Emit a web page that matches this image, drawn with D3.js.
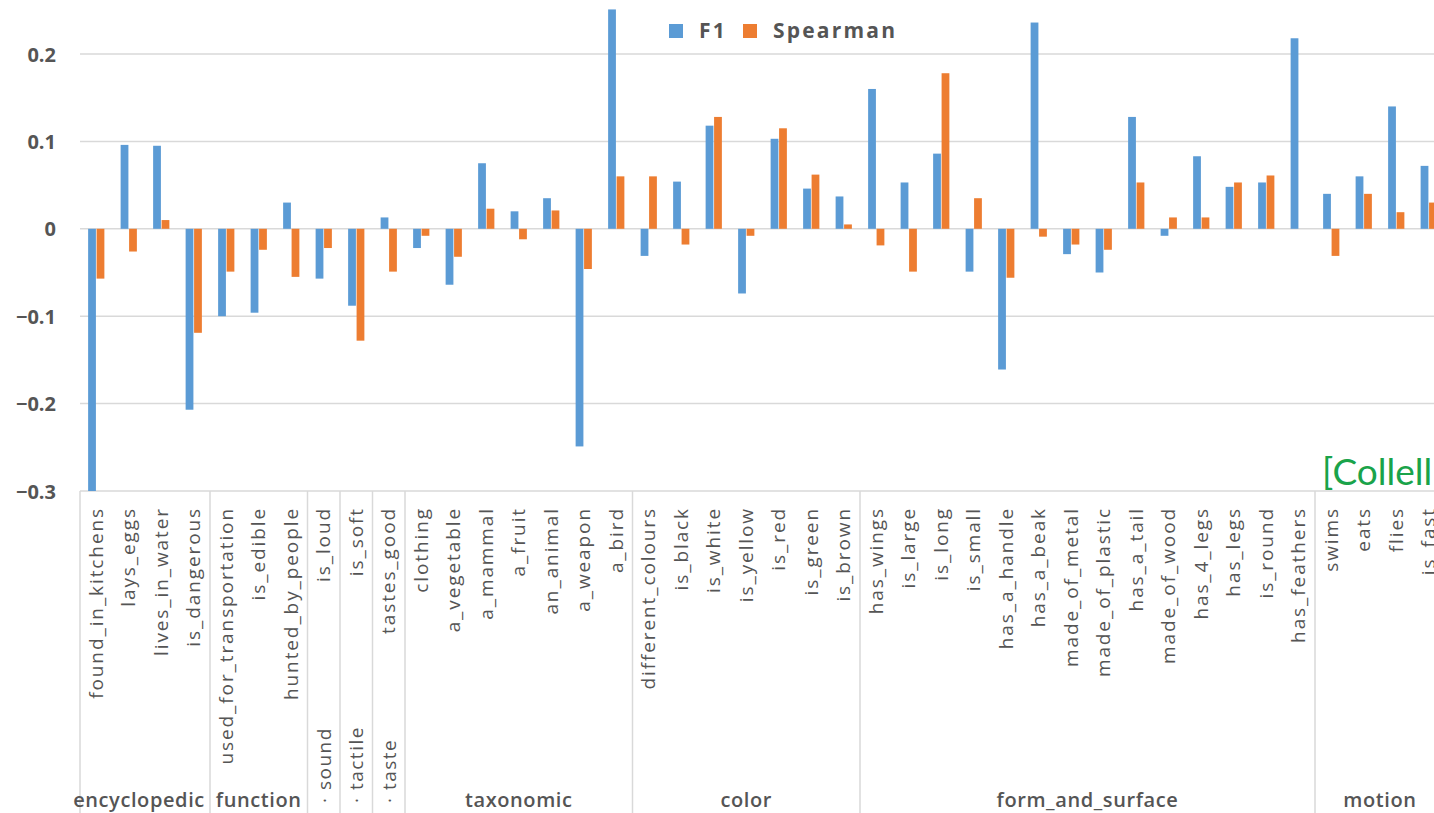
<!DOCTYPE html>
<html><head><meta charset="utf-8">
<script src="https://cdn.jsdelivr.net/npm/d3@7"></script>
<style>html,body{margin:0;padding:0;background:#fff;overflow:hidden}svg{display:block}</style>
</head><body>
<script>
const categories = ["found_in_kitchens","lays_eggs","lives_in_water","is_dangerous",
  "used_for_transportation","is_edible","hunted_by_people",
  "is_loud","is_soft","tastes_good",
  "clothing","a_vegetable","a_mammal","a_fruit","an_animal","a_weapon","a_bird",
  "different_colours","is_black","is_white","is_yellow","is_red","is_green","is_brown",
  "has_wings","is_large","is_long","is_small","has_a_handle","has_a_beak","made_of_metal",
  "made_of_plastic","has_a_tail","made_of_wood","has_4_legs","has_legs","is_round","has_feathers",
  "swims","eats","flies","is_fast"];
const f1 = [-0.300,0.096,0.095,-0.207,
  -0.100,-0.096,0.030,
  -0.057,-0.088,0.013,
  -0.022,-0.064,0.075,0.020,0.035,-0.249,0.251,
  -0.031,0.054,0.118,-0.074,0.103,0.046,0.037,
  0.160,0.053,0.086,-0.049,-0.161,0.236,-0.029,
  -0.050,0.128,-0.008,0.083,0.048,0.053,0.218,
  0.040,0.060,0.140,0.072];
const spearman = [-0.057,-0.026,0.010,-0.119,
  -0.049,-0.024,-0.055,
  -0.022,-0.128,-0.049,
  -0.008,-0.032,0.023,-0.012,0.021,-0.046,0.060,
  0.060,-0.018,0.128,-0.008,0.115,0.062,0.005,
  -0.019,-0.049,0.178,0.035,-0.056,-0.009,-0.018,
  -0.024,0.053,0.013,0.013,0.053,0.061,0.000,
  -0.031,0.040,0.019,0.030];
const groupNames = ["encyclopedic","function","sound","tactile","taste","taxonomic","color","form_and_surface","motion"];
const groupSizes = [4,3,1,1,1,7,7,14,4];
const yTicks = [0.2,0.1,0,-0.1,-0.2,-0.3];
const seriesNames = ["F1","Spearman"];
const colors = ["#5b9bd5","#ed7d31"];

const W = 1434, H = 813;
const svg = d3.select("body").append("svg").attr("width",W).attr("height",H);
const fontMain = "'Open Sans', 'Noto Sans', sans-serif";
const gray = "#555555";

const x = d3.scaleBand().domain(categories).range([80, 80 + categories.length*32.5]).paddingInner(0.5).paddingOuter(0.25);
const x1 = d3.scaleBand().domain(seriesNames).range([0, x.bandwidth()]).paddingInner(0.08);
const y = d3.scaleLinear().domain([-0.3, 0.3]).range([491, 491 - 6*87.4]);

// gridlines
svg.append("g").selectAll("line").data(yTicks).join("line")
  .attr("x1",80).attr("x2",W).attr("y1",d=>y(d)).attr("y2",d=>y(d))
  .attr("stroke","#d9d9d9").attr("stroke-width",1.5);

// y axis labels
const yAxis = d3.axisLeft(y).tickValues(yTicks).tickSize(0).tickPadding(0)
  .tickFormat(d => d === 0 ? "0" : d3.format(".1f")(d));
const ya = svg.append("g").attr("transform","translate(56,0)").call(yAxis);
ya.select(".domain").remove();
ya.selectAll("text").attr("font-family",fontMain).attr("font-weight","bold")
  .attr("font-size",20).attr("fill",gray).attr("dy","0.35em");

// bars
const data = categories.map((c,i)=>({c, vals:[f1[i], spearman[i]]}));
const cg = svg.append("g").selectAll("g").data(data).join("g")
  .attr("transform", d=>`translate(${x(d.c)},0)`);
cg.selectAll("rect").data(d=>d.vals.map((v,j)=>({v, s:seriesNames[j], j})))
  .join("rect")
  .attr("x", d=>x1(d.s)).attr("width", x1.bandwidth())
  .attr("y", d=>y(Math.max(0,d.v))).attr("height", d=>Math.abs(y(d.v)-y(0)))
  .attr("fill", d=>colors[d.j]);

// category labels
svg.append("g").selectAll("text").data(categories).join("text")
  .attr("transform", d=>`translate(${x(d)+x.bandwidth()/2-0.5},507) rotate(-90)`)
  .attr("text-anchor","end").attr("dominant-baseline","central")
  .attr("font-family",fontMain).attr("font-size",19).attr("letter-spacing","1.9px")
  .attr("fill",gray)
  .text(d=>d);

// group separators and labels
let start = 0;
const step = x.step();
const bounds = [];
groupSizes.forEach((n,i)=>{ bounds.push({name:groupNames[i], a:80+start*step, b:80+(start+n)*step, n}); start+=n; });
const sepX = [80].concat(bounds.map(b=>b.b));
svg.append("g").selectAll("line").data(sepX).join("line")
  .attr("x1",d=>d).attr("x2",d=>d).attr("y1",491).attr("y2",H)
  .attr("stroke","#d9d9d9").attr("stroke-width",1.5);
const gl = svg.append("g");
bounds.forEach(b=>{
  if (b.n === 1) {
    gl.append("text").attr("transform",`translate(${(b.a+b.b)/2},803) rotate(-90)`)
      .attr("text-anchor","start").attr("dominant-baseline","central")
      .attr("font-family",fontMain).attr("font-size",19).attr("letter-spacing","1.5px").attr("fill",gray)
      .text("· " + b.name);
  } else {
    const cx = b.name === "encyclopedic" ? (b.a+b.b)/2 - 6 : (b.a+b.b)/2;
    gl.append("text").attr("x",cx).attr("y",807)
      .attr("text-anchor","middle").attr("font-family",fontMain).attr("font-weight",600)
      .attr("font-size",20).attr("letter-spacing","0.6px").attr("fill",gray).text(b.name);
  }
});

// legend
const lg = svg.append("g");
const legendX = [669, 743];
seriesNames.forEach((s,i)=>{
  lg.append("rect").attr("x",legendX[i]).attr("y",24).attr("width",14).attr("height",14).attr("fill",colors[i]);
  lg.append("text").attr("x",legendX[i]+30).attr("y",38).attr("font-family",fontMain)
    .attr("font-weight","bold").attr("font-size",21).attr("letter-spacing","2.2px").attr("fill",gray).text(s);
});

// citation
svg.append("text").attr("x",1322).attr("y",485).attr("font-family","Lato, 'Noto Sans', sans-serif")
  .attr("font-size",37).attr("fill","#1aa34a").text("[Collell");
</script>
</body></html>
